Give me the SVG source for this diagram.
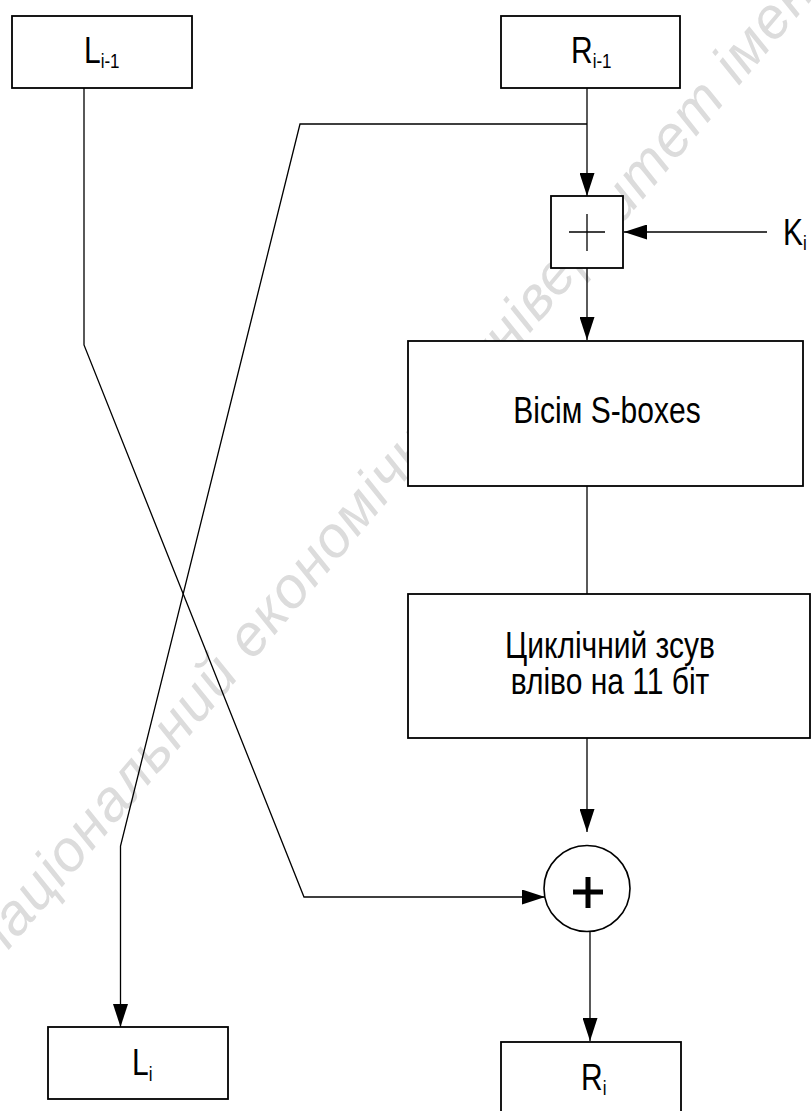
<svg xmlns="http://www.w3.org/2000/svg" width="811" height="1111" viewBox="0 0 811 1111">
<defs>
<style>
.box{fill:#fff;stroke:#000;stroke-width:1.8}
.ln{fill:none;stroke:#000;stroke-width:1.3}
.t{font-family:"Liberation Sans",Arial,sans-serif;font-size:30px;fill:#000}
.sub{font-size:17px}
.c{text-anchor:middle}
.wm{font-family:"Liberation Sans",Arial,sans-serif;font-style:italic;font-size:58px;fill:#dcdcdc}
</style>
<marker id="ah" markerUnits="userSpaceOnUse" viewBox="0 0 23 15" refX="23" refY="7.5" markerWidth="23" markerHeight="15" orient="auto">
<path d="M0,0 L23,7.5 L0,15 z" fill="#000"/>
</marker>
</defs>
<rect width="811" height="1111" fill="#fff"/>
<text class="wm" x="0" y="0" transform="translate(-4,965) rotate(-49.8)" textLength="1285" lengthAdjust="spacing">національний економічний університет імені</text>
<g id="connectors">
<polyline class="ln" points="84,88 84,345 304,897 545,897" marker-end="url(#ah)"/>
<line class="ln" x1="587" y1="88" x2="587" y2="196" marker-end="url(#ah)"/>
<polyline class="ln" points="587,124 300,124 120.5,846 120.5,1027" marker-end="url(#ah)"/>
<line class="ln" x1="767" y1="232" x2="624" y2="232" marker-end="url(#ah)"/>
<line class="ln" x1="587" y1="268" x2="587" y2="340" marker-end="url(#ah)"/>
<line class="ln" x1="587" y1="486" x2="587" y2="594"/>
<line class="ln" x1="587" y1="738" x2="587" y2="832" marker-end="url(#ah)"/>
<line class="ln" x1="590" y1="931" x2="590" y2="1041" marker-end="url(#ah)"/>
</g>
<g id="L_prev">
<rect class="box" x="12" y="16" width="180" height="72"/>
<text class="t" transform="translate(84,63) scale(1,1.22)">L<tspan class="sub" dy="4">i-1</tspan></text>
</g>
<g id="R_prev">
<rect class="box" x="501" y="16" width="179" height="72"/>
<text class="t" transform="translate(571,63) scale(1,1.22)">R<tspan class="sub" dy="4">i-1</tspan></text>
</g>
<g id="xor_key">
<rect class="box" x="551" y="196" width="72" height="72"/>
<line class="ln" x1="569" y1="232" x2="605" y2="232"/>
<line class="ln" x1="587" y1="214" x2="587" y2="251"/>
</g>
<g id="K">
<text class="t" transform="translate(783,245) scale(1,1.22)">K<tspan class="sub" dy="4">i</tspan></text>
</g>
<g id="sboxes">
<rect class="box" x="408" y="341" width="395" height="145"/>
<text class="t c" transform="translate(607,423) scale(1,1.22)">Вісім S-boxes</text>
</g>
<g id="shift">
<rect class="box" x="408" y="594" width="402" height="144"/>
<text class="t c" transform="translate(610,658) scale(1,1.22)"><tspan x="0" y="0">Циклічний зсув</tspan><tspan x="0" y="29.5">вліво на 11 біт</tspan></text>
</g>
<g id="add">
<circle cx="587" cy="888.5" r="43" fill="#fff" stroke="#000" stroke-width="1.6"/>
<line x1="573" y1="892" x2="603" y2="892" stroke="#000" stroke-width="5"/>
<line x1="588" y1="877" x2="588" y2="908" stroke="#000" stroke-width="5"/>
</g>
<g id="L_new">
<rect class="box" x="48" y="1027" width="180" height="72"/>
<text class="t" transform="translate(132,1075) scale(1,1.22)">L<tspan class="sub" dy="5">i</tspan></text>
</g>
<g id="R_new">
<rect class="box" x="501" y="1042" width="180" height="74"/>
<text class="t" transform="translate(581,1090) scale(1,1.22)">R<tspan class="sub" dy="4">i</tspan></text>
</g>
</svg>
